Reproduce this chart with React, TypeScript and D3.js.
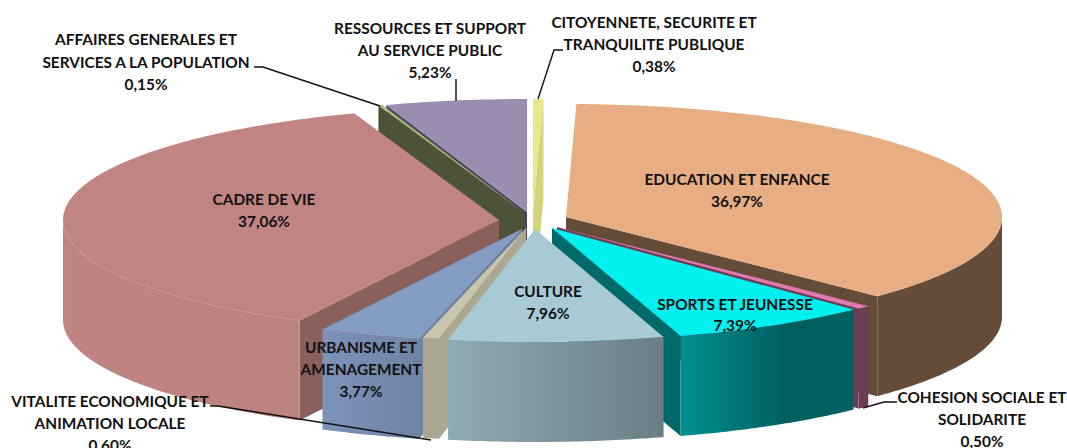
import React from "react";
import * as d3 from "d3";

const WIDTH = 1067;
const HEIGHT = 448;

const categories = [
  "CITOYENNETE, SECURITE ET TRANQUILITE PUBLIQUE",
  "EDUCATION ET ENFANCE",
  "COHESION SOCIALE ET SOLIDARITE",
  "SPORTS ET JEUNESSE",
  "CULTURE",
  "VITALITE ECONOMIQUE ET ANIMATION LOCALE",
  "URBANISME ET AMENAGEMENT",
  "CADRE DE VIE",
  "AFFAIRES GENERALES ET SERVICES A LA POPULATION",
  "RESSOURCES ET SUPPORT AU SERVICE PUBLIC",
];
const values = [0.38, 36.97, 0.5, 7.39, 7.96, 0.6, 3.77, 37.06, 0.15, 5.23];

const labelLines = [
  ["CITOYENNETE, SECURITE ET", "TRANQUILITE PUBLIQUE", "0,38%"],
  ["EDUCATION ET ENFANCE", "36,97%"],
  ["COHESION SOCIALE ET", "SOLIDARITE", "0,50%"],
  ["SPORTS ET JEUNESSE", "7,39%"],
  ["CULTURE", "7,96%"],
  ["VITALITE ECONOMIQUE ET", "ANIMATION LOCALE", "0,60%"],
  ["URBANISME ET", "AMENAGEMENT", "3,77%"],
  ["CADRE DE VIE", "37,06%"],
  ["AFFAIRES GENERALES ET", "SERVICES A LA POPULATION", "0,15%"],
  ["RESSOURCES ET SUPPORT", "AU SERVICE PUBLIC", "5,23%"],
];

// Layout: label anchors, explode offsets, colours (by slice index)
const labelAnchors: [number, number][] = [
  [654, 23], [737, 180], [982, 398], [735, 305], [548, 292],
  [110, 402], [361, 348], [264, 200], [146, 40], [430, 29],
];
const lineGaps = [22, 22, 22, 21, 22, 22, 22, 22, 22.5, 22];
const center: [number, number] = [530, 220];
const explode: [number, number][] = [
  [3, -8], [36, -3], [27, 7], [22, 8], [5, 9],
  [-4, 8], [-8, 9], [-31, 0], [-7, -8], [-3, -8],
];
const topColors = ["#e8e88a", "#e8ae83", "#e07ab0", "#00f0f0", "#a7cad5", "#c9c6ad", "#859dc2", "#c08582", "#a5b874", "#9b8db0"];
const wallColors = ["#d4d47a", "#654c39", "#6a3d52", "#006a6a", "#7b939b", "#aaa891", "#6f83a5", "#8a605d", "#4d5339", "#4d4560"];
const rimFrom = ["#d4d47a", "#654c39", "#6a3d52", "#009090", "#8fabb2", "#aaa891", "#7d92b8", "#c08582", "#4d5339", "#4d4560"];
const rimTo = ["#d4d47a", "#654c39", "#6a3d52", "#006060", "#6a7d84", "#aaa891", "#6f83a5", "#bd8380", "#4d5339", "#4d4560"];
const paintOrder = [9, 8, 0, 1, 7, 2, 3, 6, 5, 4];
const leaders: { idx: number; pts: [number, number][] }[] = [
  { idx: 8, pts: [[254, 67], [263, 67], [380, 106]] },
  { idx: 9, pts: [[456, 79], [456, 101]] },
  { idx: 0, pts: [[563, 50], [554, 50], [538, 99]] },
  { idx: 5, pts: [[210, 406], [218, 406], [431, 440]] },
  { idx: 2, pts: [[897, 402], [884, 402], [863, 408]] },
];

const RX = 436;
const RY = 113;
const DEPTH = 100;

const pieGen = d3
  .pie<number>()
  .sort(null)
  .startAngle(0)
  .endAngle(2 * Math.PI)
  .value((d) => d);
const arcs = pieGen(values);

const pt = (cx: number, cy: number, a: number): [number, number] => [
  cx + RX * Math.sin(a),
  cy - RY * Math.cos(a),
];
const lineGen = d3.line();

function rimArc(p: d3.Path, cx: number, cy: number, a0: number, a1: number) {
  const steps = Math.max(2, Math.ceil(((a1 - a0) * 180) / Math.PI));
  d3.range(steps + 1).forEach((i) => {
    const a = a0 + ((a1 - a0) * i) / steps;
    const [x, y] = pt(cx, cy, a);
    p.lineTo(x, y);
  });
}

export default function App() {
  const slices = arcs.map((a, i) => {
    const cx = center[0] + explode[i][0];
    const cy = center[1] + explode[i][1];
    const { startAngle: a0, endAngle: a1 } = a;
    const top = d3.path();
    top.moveTo(cx, cy);
    rimArc(top, cx, cy, a0, a1);
    top.closePath();
    const wall = (ang: number) => {
      const [x, y] = pt(cx, cy, ang);
      return lineGen([
        [cx, cy],
        [x, y],
        [x, y + DEPTH],
        [cx, cy + DEPTH],
      ])!;
    };
    const showStart = Math.sin(a0) < 0;
    const showEnd = Math.sin(a1) > 0;
    const r0 = Math.max(a0, Math.PI / 2);
    const r1 = Math.min(a1, 1.5 * Math.PI);
    let rim: string | null = null;
    let gx0 = 0;
    let gx1 = 0;
    if (r1 > r0) {
      const p = d3.path();
      const [sx, sy] = pt(cx, cy, r0);
      p.moveTo(sx, sy);
      rimArc(p, cx, cy, r0, r1);
      const back = d3.range(r1, r0 - 1e-6, -(r1 - r0) / 40);
      back.forEach((ang) => {
        const [x, y] = pt(cx, cy + DEPTH, ang);
        p.lineTo(x, y);
      });
      p.closePath();
      rim = p.toString();
      gx0 = Math.min(pt(cx, cy, r0)[0], pt(cx, cy, r1)[0]);
      gx1 = Math.max(pt(cx, cy, r0)[0], pt(cx, cy, r1)[0]);
    }
    return { i, top: top.toString(), wall, a0, a1, showStart, showEnd, rim, gx0, gx1 };
  });

  return (
    <svg
      width={WIDTH}
      height={HEIGHT}
      viewBox={`0 0 ${WIDTH} ${HEIGHT}`}
      style={{ position: "fixed", left: 0, top: 0, background: "#fff" }}
    >
      <defs>
        {slices.map((s) => (
          <linearGradient
            key={s.i}
            id={`rim${s.i}`}
            gradientUnits="userSpaceOnUse"
            x1={s.gx0}
            x2={s.gx1}
            y1={0}
            y2={0}
          >
            <stop offset="0" stopColor={rimFrom[s.i]} />
            <stop offset={s.i === 3 ? 0.6 : 1} stopColor={rimTo[s.i]} />
          </linearGradient>
        ))}
      </defs>
      {paintOrder.map((i) => {
        const s = slices[i];
        return (
          <g key={i}>
            {s.showStart && <path d={s.wall(s.a0)} fill={wallColors[i]} />}
            {s.showEnd && <path d={s.wall(s.a1)} fill={wallColors[i]} />}
            {s.rim && <path d={s.rim} fill={`url(#rim${i})`} />}
            <path d={s.top} fill={topColors[i]} />
          </g>
        );
      })}
      {leaders.map((l) => (
        <path key={l.idx} d={lineGen(l.pts)!} fill="none" stroke="#111" strokeWidth={1.4} />
      ))}
      {labelLines.map((lines, i) => (
        <text
          key={categories[i]}
          textAnchor="middle"
          fontFamily="Lato, 'Open Sans', sans-serif"
          fontWeight={700}
          fontSize={15.4}
          fill="#111"
        >
          {lines.map((t, j) => (
            <tspan key={j} x={labelAnchors[i][0]} y={labelAnchors[i][1] + 5 + j * lineGaps[i]}>
              {t}
            </tspan>
          ))}
        </text>
      ))}
    </svg>
  );
}
